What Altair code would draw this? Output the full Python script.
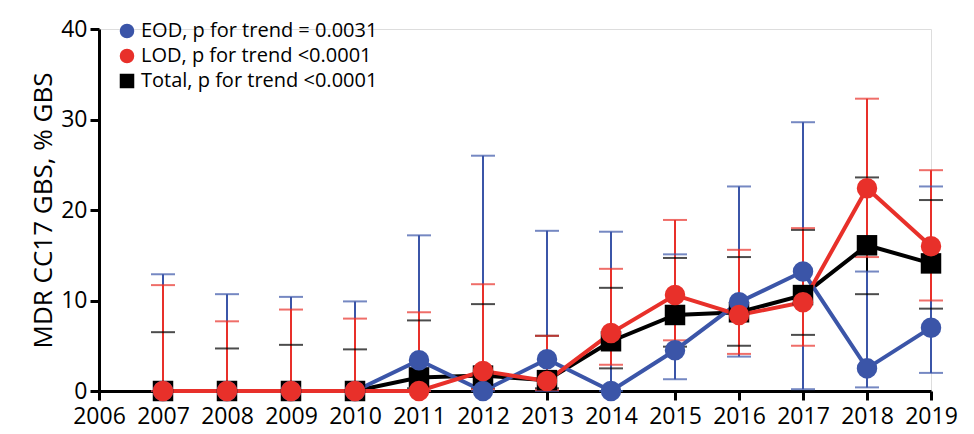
import altair as alt
import pandas as pd

years = list(range(2007, 2020))

eod = [0, 0, 0, 0, 3.4, 0, 3.5, 0, 4.5, 9.8, 13.2, 2.5, 7.0]
eod_lo = [0, 0, 0, 0, 0, 0, 0, 0, 1.3, 3.8, 0.2, 0.4, 2.0]
eod_hi = [12.9, 10.7, 10.4, 9.9, 17.2, 26.0, 17.7, 17.6, 15.1, 22.6, 29.7, 13.2, 22.6]

lod = [0, 0, 0, 0, 0, 2.2, 1.1, 6.4, 10.6, 8.4, 9.8, 22.4, 16.0]
lod_lo = [0, 0, 0, 0, 0, 0.2, 0.1, 2.9, 5.6, 4.1, 5.0, 14.8, 10.0]
lod_hi = [11.7, 7.7, 9.0, 8.0, 8.7, 11.8, 6.1, 13.5, 18.9, 15.6, 18.0, 32.3, 24.4]

total = [0, 0, 0, 0, 1.5, 1.7, 1.2, 5.5, 8.4, 8.7, 10.6, 16.1, 14.1]
total_lo = [0, 0, 0, 0, 0.3, 0.3, 0.3, 2.5, 4.9, 5.0, 6.2, 10.7, 9.1]
total_hi = [6.5, 4.7, 5.1, 4.6, 7.8, 9.6, 6.1, 11.4, 14.7, 14.8, 17.8, 23.6, 21.1]

labels = ["EOD, p for trend = 0.0031", "LOD, p for trend <0.0001", "Total, p for trend <0.0001"]
colors = ["#3b55a8", "#e8302a", "#000000"]
shapes = ["circle", "circle", "square"]

rows = []
# drawing order: total, EOD, LOD (red on top)
for k, (name, v, lo, hi) in enumerate([
    (labels[2], total, total_lo, total_hi),
    (labels[0], eod, eod_lo, eod_hi),
    (labels[1], lod, lod_lo, lod_hi),
]):
    for y, a, b, c in zip(years, v, lo, hi):
        rows.append({"year": y, "series": name, "value": a, "lo": b, "hi": c, "ord": k})
df = pd.DataFrame(rows)

x = alt.X("year:Q", scale=alt.Scale(domain=[2006, 2019], nice=False),
          axis=alt.Axis(values=list(range(2006, 2020)), format="d", title=None,
                        labelOverlap=False, labelFlush=False, labelBound=False,
                        labelPadding=5))
y_scale = alt.Scale(domain=[0, 40], nice=False)
leg = alt.Legend(orient="none", legendX=18, legendY=-8, title=None, labelLimit=0,
                 labelFontSize=20, symbolSize=170, rowPadding=5, labelColor="black",
                 symbolOpacity=1)
col = alt.Color("series:N", scale=alt.Scale(domain=labels, range=colors), legend=leg)
shp = alt.Shape("series:N", scale=alt.Scale(domain=labels, range=shapes), legend=leg)

base = alt.Chart(df)

bars = base.mark_rule(strokeWidth=2).encode(
    x=x, y=alt.Y("lo:Q", scale=y_scale), y2="hi:Q", color=col)
caps_hi = base.mark_tick(orient="horizontal", size=24, thickness=2).encode(
    x=x, y=alt.Y("hi:Q", scale=y_scale), color=col)
caps_lo = base.mark_tick(orient="horizontal", size=24, thickness=2).encode(
    x=x, y=alt.Y("lo:Q", scale=y_scale), color=col)
lines = base.mark_line(strokeWidth=4).encode(
    x=x,
    y=alt.Y("value:Q", scale=y_scale,
            axis=alt.Axis(values=[0, 10, 20, 30, 40], title="MDR CC17 GBS, % GBS")),
    color=col, order="ord:Q")
points = base.mark_point(filled=True, opacity=1, size=420).encode(
    x=x, y=alt.Y("value:Q", scale=y_scale), color=col, shape=shp, order="ord:Q")

chart = alt.layer(bars, caps_hi, caps_lo, lines, points).properties(
    width=832, height=362, padding={"left": 22, "top": 10, "right": 6, "bottom": 0}
).configure_view(stroke=None).configure(font="Open Sans").configure_axis(
    labelFontSize=23, grid=False, domainWidth=3, tickWidth=3, tickSize=9,
    domainColor="black", tickColor="black", labelColor="black", titleColor="black",
    titleFontSize=26, titleFontWeight="normal", titlePadding=4, labelPadding=3)

chart.save("out.html", embed_options={"renderer": "svg", "actions": False})
